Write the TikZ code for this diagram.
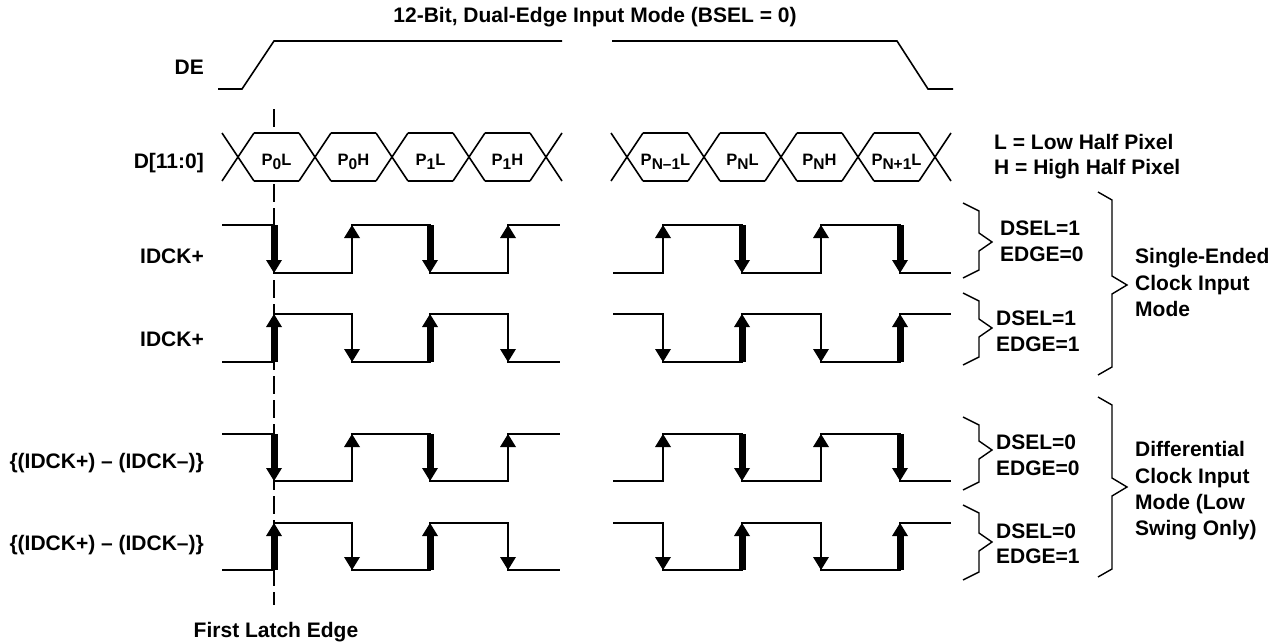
\documentclass[tikz,border=0pt]{standalone}
\usepackage{fontspec}
\setmainfont{Liberation Sans}
\tikzset{
  lbl/.style={font=\fontsize{21}{25}\selectfont\bfseries, inner sep=0pt},
  hexlbl/.style={font=\fontsize{16.5}{18}\selectfont\bfseries, inner sep=0pt, anchor=base},
  sig/.style={line width=1.6pt, line join=miter},
  brc/.style={line width=1.4pt, line join=miter},
  latch/.style={line width=1.2pt, dash pattern=on 18pt off 6pt},
}
\newcommand{\myPL}[2]{P\raisebox{-4pt}{\fontsize{15.5}{15.5}\selectfont #1}#2}
% thick falling / rising arrows, thin arrowheads: x, ytop, ybot
\newcommand{\myTD}[3]{\fill (#1-3.5,#2) rectangle (#1+3.5,#3-12); \fill (#1-8,#3-13) -- (#1+8,#3-13) -- (#1,#3) -- cycle;}
\newcommand{\myTU}[3]{\fill (#1-3.5,#3) rectangle (#1+3.5,#2+12); \fill (#1-8,#2+13) -- (#1+8,#2+13) -- (#1,#2) -- cycle;}
\newcommand{\myND}[3]{\fill (#1-8,#3-13) -- (#1+8,#3-13) -- (#1,#3) -- cycle;}
\newcommand{\myNU}[3]{\fill (#1-8,#2+13) -- (#1+8,#2+13) -- (#1,#2) -- cycle;}
% clock row, EDGE=0 pattern
\newcommand{\myClkA}[2]{%
  \draw[sig] (222,#1) -- (274,#1) -- (274,#2) -- (352,#2) -- (352,#1) -- (430,#1) -- (430,#2) -- (508,#2) -- (508,#1) -- (560,#1);
  \draw[sig] (613,#2) -- (663,#2) -- (663,#1) -- (742,#1) -- (742,#2) -- (821,#2) -- (821,#1) -- (900,#1) -- (900,#2) -- (951,#2);
  \myTD{274}{#1}{#2} \myTD{430}{#1}{#2} \myTD{742}{#1}{#2} \myTD{900}{#1}{#2}
  \myNU{352}{#1}{#2} \myNU{508}{#1}{#2} \myNU{663}{#1}{#2} \myNU{821}{#1}{#2}
}
% clock row, EDGE=1 pattern
\newcommand{\myClkB}[2]{%
  \draw[sig] (222,#2) -- (274,#2) -- (274,#1) -- (352,#1) -- (352,#2) -- (430,#2) -- (430,#1) -- (508,#1) -- (508,#2) -- (560,#2);
  \draw[sig] (613,#1) -- (663,#1) -- (663,#2) -- (742,#2) -- (742,#1) -- (821,#1) -- (821,#2) -- (900,#2) -- (900,#1) -- (951,#1);
  \myTU{274}{#1}{#2} \myTU{430}{#1}{#2} \myTU{742}{#1}{#2} \myTU{900}{#1}{#2}
  \myND{352}{#1}{#2} \myND{508}{#1}{#2} \myND{663}{#1}{#2} \myND{821}{#1}{#2}
}
% brace: xtip, xvert, xpoint, ytop, ymid, ybot
\newcommand{\myBrace}[6]{\draw[brc] (#1,#4) -- (#2,#4+8) -- (#2,#5-9) -- (#3,#5) -- (#2,#5+9) -- (#2,#6-8) -- (#1,#6);}
\begin{document}
\begin{tikzpicture}[x=1pt,y=-1pt]
\useasboundingbox (0,0) rectangle (1282,642);

% first latch edge (interrupted inside the data bus)
\coordinate (la) at (274,109);
\coordinate (lb) at (274,130);
\coordinate (lc) at (274,184);
\coordinate (ld) at (274,605);
\draw[latch] (la) -- (lb);
\draw[latch] (lc) -- (ld);

% DE
\draw[sig] (218,89) -- (242,89) -- (274,41) -- (562,41);
\draw[sig] (612,41) -- (897,41) -- (928,89) -- (953,89);

% data bus
\foreach \c in {238,315,392,469,546,627,704,781,858,935} {
  \draw[sig] (\c-16,133) -- (\c+16,181);
  \draw[sig] (\c-16,181) -- (\c+16,133);
}
\foreach \a/\b in {238/315,315/392,392/469,469/546,627/704,704/781,781/858,858/935} {
  \draw[sig] (\a+16,133) -- (\b-16,133);
  \draw[sig] (\a+16,181) -- (\b-16,181);
}
\node[hexlbl] (p0l) at (276.5,165) {\myPL{0}{L}};
\node[hexlbl] (p0h) at (353.5,165) {\myPL{0}{H}};
\node[hexlbl] (p1l) at (430.5,165) {\myPL{1}{L}};
\node[hexlbl] (p1h) at (507.5,165) {\myPL{1}{H}};
\node[hexlbl] (pn1l) at (665.5,165) {\myPL{N–1}{L}};
\node[hexlbl] (pnl) at (742.5,165) {\myPL{N}{L}};
\node[hexlbl] (pnh) at (819.5,165) {\myPL{N}{H}};
\node[hexlbl] (pnp1l) at (896.5,165) {\myPL{N+1}{L}};

% clocks
\myClkA{225}{273}
\myClkB{314}{362}
\myClkA{434}{481}
\myClkB{523}{570}

% braces
\myBrace{963}{979}{992}{203}{242}{278}
\myBrace{963}{979}{992}{293}{328}{365}
\myBrace{963}{979}{992}{417}{450}{490}
\myBrace{963}{979}{992}{505}{542}{580}
\myBrace{1098}{1112}{1127}{192}{285}{375}
\myBrace{1098}{1112}{1127}{397}{487}{577}

% labels
\node[lbl, anchor=base] (title) at (595,23) {12-Bit, Dual-Edge Input Mode (BSEL = 0)};
\node[lbl, anchor=base east] (de) at (204,74.5) {DE};
\node[lbl, anchor=base east] (d) at (204,168) {D[11:0]};
\node[lbl, anchor=base east] (ck1) at (204,263) {IDCK+};
\node[lbl, anchor=base east] (ck2) at (204,346) {IDCK+};
\node[lbl, anchor=base east] (ck3) at (204,468) {\{(IDCK+) – (IDCK–)\}};
\node[lbl, anchor=base east] (ck4) at (204,550) {\{(IDCK+) – (IDCK–)\}};
\node[lbl, anchor=base] (fle) at (276,637) {First Latch Edge};

\node[lbl, anchor=base west] (leg1) at (994,149) {L = Low Half Pixel};
\node[lbl, anchor=base west] (leg2) at (994,174) {H = High Half Pixel};

\node[lbl, anchor=base west] (s1a) at (1000,235) {DSEL=1};
\node[lbl, anchor=base west] (s1b) at (1000,261) {EDGE=0};
\node[lbl, anchor=base west] (s2a) at (996,325) {DSEL=1};
\node[lbl, anchor=base west] (s2b) at (996,351) {EDGE=1};
\node[lbl, anchor=base west] (s3a) at (996,449) {DSEL=0};
\node[lbl, anchor=base west] (s3b) at (996,475) {EDGE=0};
\node[lbl, anchor=base west] (s4a) at (996,538) {DSEL=0};
\node[lbl, anchor=base west] (s4b) at (996,563) {EDGE=1};

\node[lbl, anchor=base west] (se1) at (1135,263) {Single-Ended};
\node[lbl, anchor=base west] (se2) at (1135,290) {Clock Input};
\node[lbl, anchor=base west] (se3) at (1135,316) {Mode};

\node[lbl, anchor=base west] (df1) at (1135,456) {Differential};
\node[lbl, anchor=base west] (df2) at (1135,483) {Clock Input};
\node[lbl, anchor=base west] (df3) at (1135,509) {Mode (Low};
\node[lbl, anchor=base west] (df4) at (1135,535) {Swing Only)};
\end{tikzpicture}
\end{document}
